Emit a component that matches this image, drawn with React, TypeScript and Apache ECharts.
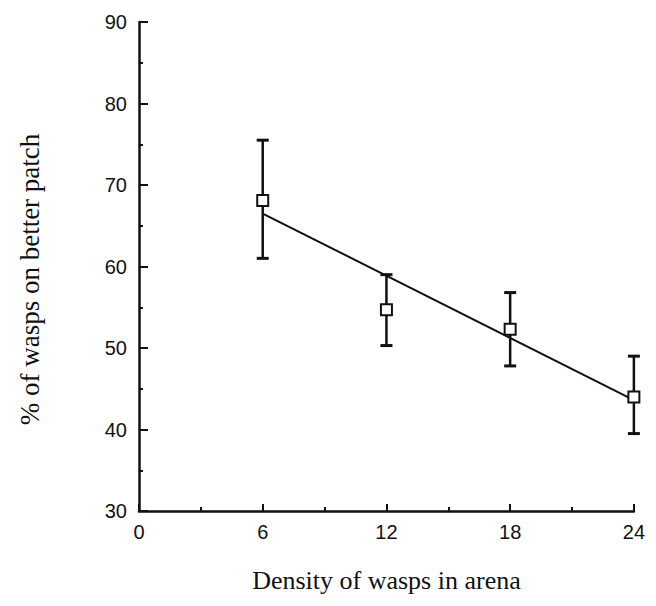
import React, { useEffect, useRef } from "react";
import * as echarts from "echarts";

const densities = [6, 12, 18, 24];
const meanPct = [68.1, 54.7, 52.3, 44.0];
const upperPct = [75.5, 59.0, 56.8, 49.0];
const lowerPct = [61.0, 50.3, 47.8, 39.5];
const fitX = [6, 24];
const fitY = [66.5, 43.6];

export default function App() {
  const ref = useRef<HTMLDivElement>(null);
  useEffect(() => {
    const chart = echarts.init(ref.current!, null, { renderer: "svg" });
    const errData = densities.map((d, i) => [d, lowerPct[i], upperPct[i]]);
    chart.setOption({
      animation: false,
      backgroundColor: "#fff",
      grid: { left: 123, right: 5, top: 14, bottom: 76, containLabel: false },
      xAxis: {
        type: "value",
        min: 0,
        max: 24,
        interval: 6,
        name: "Density of wasps in arena",
        nameLocation: "middle",
        nameGap: 56,
        nameTextStyle: { fontFamily: "Liberation Serif, Times New Roman, serif", fontSize: 26, color: "#111" },
        axisLine: { show: true, lineStyle: { color: "#111", width: 2.5 } },
        axisTick: { show: true, inside: true, length: 7, lineStyle: { color: "#111", width: 2 } },
        minorTick: { show: true, splitNumber: 2, length: 4, lineStyle: { color: "#111", width: 2 } },
        axisLabel: { color: "#111", fontSize: 20, fontFamily: "Liberation Sans, Arial, sans-serif", margin: 11 },
        splitLine: { show: false },
      },
      yAxis: {
        type: "value",
        min: 30,
        max: 90,
        interval: 10,
        name: "% of wasps on better patch",
        nameLocation: "middle",
        nameGap: 96,
        nameTextStyle: {
          fontFamily: "Liberation Serif, Times New Roman, serif",
          fontSize: 27,
          color: "#111",
          padding: [0, 26, 0, 0],
        },
        axisLine: { show: true, lineStyle: { color: "#111", width: 2.5 } },
        axisTick: { show: true, inside: true, length: 9, lineStyle: { color: "#111", width: 2 } },
        minorTick: { show: true, splitNumber: 2, length: 4, lineStyle: { color: "#111", width: 2 } },
        axisLabel: { color: "#111", fontSize: 20, fontFamily: "Liberation Sans, Arial, sans-serif", margin: 12 },
        splitLine: { show: false },
      },
      series: [
        {
          type: "line",
          data: fitX.map((x, i) => [x, fitY[i]]),
          showSymbol: false,
          symbol: "none",
          lineStyle: { color: "#111", width: 2 },
          z: 2,
        },
        {
          type: "custom",
          data: errData,
          z: 3,
          renderItem: (params: any, api: any) => {
            const x = api.value(0);
            const lo = api.coord([x, api.value(1)]);
            const hi = api.coord([x, api.value(2)]);
            const w = 6;
            const style = { stroke: "#111", lineWidth: 2.5 };
            return {
              type: "group",
              children: [
                { type: "line", shape: { x1: lo[0], y1: lo[1], x2: hi[0], y2: hi[1] }, style },
                { type: "line", shape: { x1: lo[0] - w, y1: lo[1], x2: lo[0] + w, y2: lo[1] }, style: { stroke: "#111", lineWidth: 3 } },
                { type: "line", shape: { x1: hi[0] - w, y1: hi[1], x2: hi[0] + w, y2: hi[1] }, style: { stroke: "#111", lineWidth: 3 } },
              ],
            };
          },
        },
        {
          type: "scatter",
          data: densities.map((d, i) => [d, meanPct[i]]),
          symbol: "rect",
          symbolSize: 11,
          itemStyle: { color: "#fff", borderColor: "#111", borderWidth: 2, opacity: 1 },
          z: 5,
        },
      ],
    });
    return () => chart.dispose();
  }, []);
  return <div ref={ref} style={{ width: 640, height: 590 }} />;
}
